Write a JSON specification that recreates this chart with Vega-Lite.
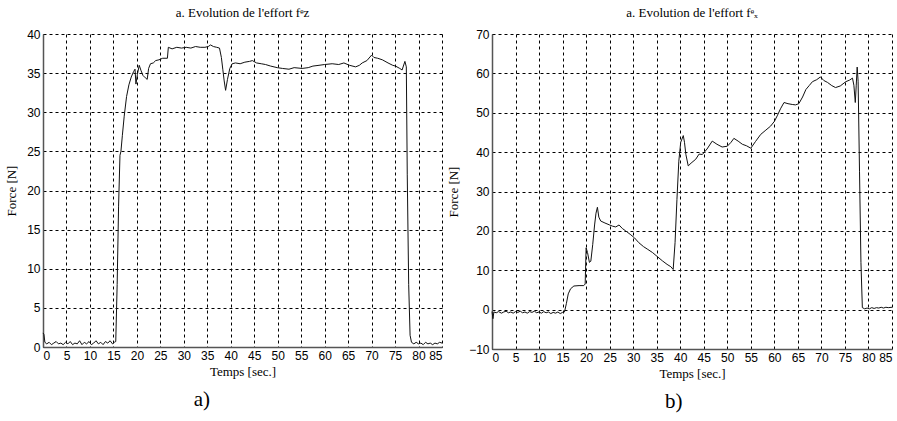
{
  "$schema": "https://vega.github.io/schema/vega-lite/v6.json",
  "background": "white",
  "padding": {"left": 5, "top": 7, "right": 0, "bottom": 3},
  "spacing": 3,
  "datasets": {
    "fz": [
      {"t":0,"f":1.8},{"t":0.2,"f":1.6},{"t":0.4,"f":0.6},{"t":0.8,"f":0.4},{"t":1.3,"f":0.6},{"t":1.8,"f":0.3},{"t":2.3,"f":0.5},{"t":2.8,"f":0.7},{"t":3.3,"f":0.4},{"t":3.8,"f":0.5},{"t":4.3,"f":0.3},{"t":4.8,"f":0.6},{"t":5.3,"f":0.4},{"t":5.8,"f":0.7},{"t":6.3,"f":0.3},{"t":6.8,"f":0.5},{"t":7.3,"f":0.4},{"t":7.8,"f":0.8},{"t":8.3,"f":0.3},{"t":8.8,"f":0.6},{"t":9.3,"f":0.4},{"t":9.8,"f":0.7},{"t":10.3,"f":0.3},{"t":10.8,"f":0.5},{"t":11.3,"f":0.8},{"t":11.8,"f":0.4},{"t":12.3,"f":0.6},{"t":12.8,"f":0.3},{"t":13.3,"f":0.7},{"t":13.8,"f":0.5},{"t":14.3,"f":0.8},{"t":14.8,"f":0.4},{"t":15.2,"f":0.6},{"t":15.5,"f":0.7},
      {"t":15.8,"f":8},{"t":16.1,"f":18},{"t":16.4,"f":24.5},{"t":16.6,"f":25},{"t":16.9,"f":27},{"t":17.3,"f":29.5},{"t":17.8,"f":32},{"t":18.3,"f":33.5},{"t":18.8,"f":34.5},{"t":19.3,"f":35.2},{"t":19.6,"f":35.5},{"t":19.8,"f":33.6},{"t":20.1,"f":34.8},{"t":20.5,"f":36.0},{"t":20.9,"f":35.3},{"t":21.3,"f":34.7},{"t":21.8,"f":34.4},{"t":22.2,"f":34.2},{"t":22.5,"f":35.6},{"t":22.9,"f":36.2},{"t":23.5,"f":36.3},{"t":24.0,"f":36.6},{"t":24.7,"f":36.7},{"t":25.5,"f":36.9},{"t":26.5,"f":36.9},
      {"t":26.7,"f":38.3},{"t":27.5,"f":38.1},{"t":28.5,"f":38.3},{"t":29.5,"f":38.2},{"t":30.5,"f":38.3},{"t":31.5,"f":38.2},{"t":32.5,"f":38.4},{"t":33.5,"f":38.3},{"t":34.5,"f":38.3},{"t":35.2,"f":38.4},{"t":35.7,"f":38.6},{"t":36.3,"f":38.4},{"t":37.0,"f":38.3},{"t":37.6,"f":38.2},{"t":38.0,"f":37.0},{"t":38.3,"f":35.5},{"t":38.6,"f":34.0},{"t":38.9,"f":32.8},{"t":39.3,"f":34.2},{"t":39.8,"f":35.6},{"t":40.3,"f":36.2},{"t":41.0,"f":36.3},{"t":42.0,"f":36.2},{"t":43.0,"f":36.4},{"t":44.0,"f":36.5},{"t":44.6,"f":36.6},{"t":45.5,"f":36.3},{"t":46.5,"f":36.2},{"t":47.4,"f":36.1},{"t":48.5,"f":35.9},{"t":49.9,"f":35.7},{"t":51.0,"f":35.6},{"t":52.4,"f":35.5},{"t":53.5,"f":35.7},{"t":55.2,"f":35.6},{"t":56.5,"f":35.7},{"t":57.5,"f":35.9},{"t":58.8,"f":36.0},{"t":60.0,"f":36.1},{"t":61.6,"f":36.2},{"t":63.0,"f":36.1},{"t":64.1,"f":36.3},{"t":65.3,"f":36.0},{"t":66.6,"f":35.8},{"t":67.4,"f":36.0},{"t":68.0,"f":36.3},{"t":69.0,"f":36.6},{"t":70.0,"f":37.3},{"t":70.5,"f":37.0},{"t":71.3,"f":36.9},{"t":72.3,"f":36.7},{"t":73.5,"f":36.3},{"t":74.5,"f":36.0},{"t":75.1,"f":35.9},{"t":76.0,"f":35.6},{"t":76.5,"f":35.4},{"t":77.1,"f":36.5},{"t":77.4,"f":35.8},
      {"t":77.6,"f":22},{"t":77.9,"f":8},{"t":78.2,"f":1.5},{"t":78.5,"f":0.6},{"t":79.0,"f":0.4},{"t":79.5,"f":0.6},{"t":80.0,"f":0.4},{"t":80.5,"f":0.5},{"t":81.0,"f":0.3},{"t":81.5,"f":0.6},{"t":82.0,"f":0.4},{"t":82.5,"f":0.5},{"t":83.0,"f":0.3},{"t":83.5,"f":0.5},{"t":84.0,"f":0.4},{"t":84.5,"f":0.6},{"t":85.0,"f":0.5}
    ],
    "fx": [
      {"t":0,"f":-0.5},{"t":0.2,"f":-2.3},{"t":0.4,"f":-0.6},{"t":0.9,"f":-0.8},{"t":1.4,"f":-0.5},{"t":2.0,"f":-0.9},{"t":2.5,"f":-0.6},{"t":3.0,"f":-0.4},{"t":3.5,"f":-0.8},{"t":4.0,"f":-0.6},{"t":4.5,"f":-0.9},{"t":5.0,"f":-0.5},{"t":5.5,"f":-0.7},{"t":6.0,"f":-0.4},{"t":6.5,"f":-0.8},{"t":7.0,"f":-0.6},{"t":7.5,"f":-0.9},{"t":8.0,"f":-0.5},{"t":8.5,"f":-0.7},{"t":9.0,"f":-0.4},{"t":9.5,"f":-0.8},{"t":10.0,"f":-0.6},{"t":10.5,"f":-0.9},{"t":11.0,"f":-0.5},{"t":11.5,"f":-0.8},{"t":12.0,"f":-0.6},{"t":12.5,"f":-1.0},{"t":13.0,"f":-0.7},{"t":13.5,"f":-0.9},{"t":14.0,"f":-0.6},{"t":14.5,"f":-1.0},{"t":15.0,"f":-0.7},{"t":15.4,"f":-0.6},
      {"t":15.8,"f":1.5},{"t":16.2,"f":4.0},{"t":16.7,"f":5.3},{"t":17.4,"f":6.0},{"t":18.5,"f":6.1},{"t":19.5,"f":6.1},{"t":19.8,"f":6.5},{"t":20.0,"f":15.7},{"t":20.3,"f":14.5},{"t":20.7,"f":12.0},{"t":21.0,"f":12.3},{"t":21.4,"f":16.5},{"t":21.8,"f":21.5},{"t":22.1,"f":24.5},{"t":22.4,"f":26.0},{"t":22.7,"f":23.5},{"t":23.1,"f":22.5},{"t":24.0,"f":22.0},{"t":25.0,"f":21.5},{"t":25.6,"f":21.2},{"t":26.3,"f":21.0},{"t":27.0,"f":21.5},{"t":27.7,"f":20.6},{"t":28.4,"f":20.0},{"t":29.5,"f":19.0},{"t":30.3,"f":18.2},{"t":31.2,"f":17.0},{"t":32.2,"f":16.0},{"t":33.1,"f":15.3},{"t":34.1,"f":14.5},{"t":35.2,"f":13.4},{"t":36.2,"f":12.4},{"t":37.2,"f":11.5},{"t":38.0,"f":10.9},{"t":38.5,"f":10.2},
      {"t":38.9,"f":17},{"t":39.3,"f":28},{"t":39.7,"f":37.7},{"t":40.1,"f":42.5},{"t":40.65,"f":44.2},{"t":40.9,"f":42.5},{"t":41.2,"f":39.4},{"t":41.7,"f":36.5},{"t":42.3,"f":37.2},{"t":43.3,"f":38.2},{"t":44.0,"f":39.5},{"t":44.7,"f":39.4},{"t":45.7,"f":40.8},{"t":46.8,"f":42.8},{"t":47.8,"f":42.0},{"t":48.9,"f":41.3},{"t":50.0,"f":41.5},{"t":50.8,"f":42.5},{"t":51.4,"f":43.5},{"t":52.3,"f":42.8},{"t":53.2,"f":42.0},{"t":54.1,"f":41.6},{"t":55.0,"f":41.0},{"t":56.0,"f":42.7},{"t":57.1,"f":44.5},{"t":58.2,"f":45.6},{"t":59.2,"f":46.6},{"t":60.0,"f":47.8},{"t":60.6,"f":49.2},{"t":61.3,"f":51.0},{"t":62.05,"f":52.6},{"t":62.9,"f":52.3},{"t":63.8,"f":52.1},{"t":64.5,"f":52.0},{"t":65.2,"f":52.3},{"t":66.0,"f":54.0},{"t":66.7,"f":55.9},{"t":67.4,"f":56.9},{"t":68.1,"f":57.9},{"t":69.0,"f":58.4},{"t":69.8,"f":59.1},{"t":70.5,"f":58.2},{"t":71.3,"f":57.7},{"t":72.2,"f":56.9},{"t":73.0,"f":56.4},{"t":74.0,"f":56.8},{"t":75.2,"f":57.9},{"t":76.0,"f":58.3},{"t":76.6,"f":58.8},{"t":76.9,"f":57},{"t":77.2,"f":52.6},{"t":77.4,"f":57},{"t":77.6,"f":61.6},{"t":77.8,"f":58},
      {"t":78.1,"f":35},{"t":78.4,"f":12},{"t":78.7,"f":0.5},{"t":79.2,"f":0.2},{"t":79.7,"f":0.4},{"t":80.2,"f":0.2},{"t":80.7,"f":0.5},{"t":81.2,"f":0.3},{"t":81.7,"f":0.5},{"t":82.2,"f":0.4},{"t":82.7,"f":0.6},{"t":83.2,"f":0.4},{"t":83.7,"f":0.6},{"t":84.2,"f":0.5},{"t":85.0,"f":0.6}
    ]
  },
  "hconcat": [
    {
      "title": {"text": "a)", "orient": "bottom", "anchor": "middle", "font": "Liberation Serif", "fontSize": 21, "fontWeight": "normal", "offset": 11, "dx": -23},
      "vconcat": [
        {
          "width": 399,
          "height": 313,
          "title": {"text": "a. Evolution de l'effort fᵉᴢ", "font": "Liberation Serif", "fontSize": 13, "fontWeight": "normal", "offset": 8},
          "data": {"name": "fz"},
          "mark": {"type": "line", "color": "#111", "strokeWidth": 1},
          "encoding": {
            "x": {"field": "t", "type": "quantitative", "scale": {"domain": [0, 85], "nice": false, "zero": false},
                  "axis": {"values": [0,5,10,15,20,25,30,35,40,45,50,55,60,65,70,75,80,85], "title": "Temps [sec.]"}},
            "y": {"field": "f", "type": "quantitative", "scale": {"domain": [0, 40], "nice": false},
                  "axis": {"values": [0,5,10,15,20,25,30,35,40], "title": "Force [N]", "titlePadding": 8}}
          }
        }
      ]
    },
    {
      "title": {"text": "b)", "orient": "bottom", "anchor": "middle", "font": "Liberation Serif", "fontSize": 21, "fontWeight": "normal", "offset": 11, "dx": 3},
      "vconcat": [
        {
          "width": 400,
          "height": 315,
          "title": {"text": "a. Evolution de l'effort fᵉₓ", "font": "Liberation Serif", "fontSize": 13, "fontWeight": "normal", "offset": 8},
          "data": {"name": "fx"},
          "mark": {"type": "line", "color": "#111", "strokeWidth": 1},
          "encoding": {
            "x": {"field": "t", "type": "quantitative", "scale": {"domain": [0, 85], "nice": false, "zero": false},
                  "axis": {"values": [0,5,10,15,20,25,30,35,40,45,50,55,60,65,70,75,80,85], "title": "Temps [sec.]", "labelFlush": true}},
            "y": {"field": "f", "type": "quantitative", "scale": {"domain": [-10, 70], "nice": false},
                  "axis": {"values": [-10,0,10,20,30,40,50,60,70], "title": "Force [N]", "titlePadding": 8}}
          }
        }
      ]
    }
  ],
  "config": {
    "view": {"stroke": null},
    "axis": {
      "grid": true,
      "gridColor": "#000",
      "gridDash": [3, 3],
      "gridOpacity": 1,
      "gridWidth": 1,
      "domainColor": "#555",
      "domainWidth": 1.5,
      "ticks": false,
      "labelFont": "Liberation Sans",
      "labelFontSize": 12,
      "labelColor": "#000",
      "labelPadding": 3,
      "titleFont": "Liberation Serif",
      "titleFontSize": 13,
      "titleFontWeight": "normal",
      "titleColor": "#000",
      "titlePadding": 4
    },
    "title": {"color": "#000"}
  }
}
